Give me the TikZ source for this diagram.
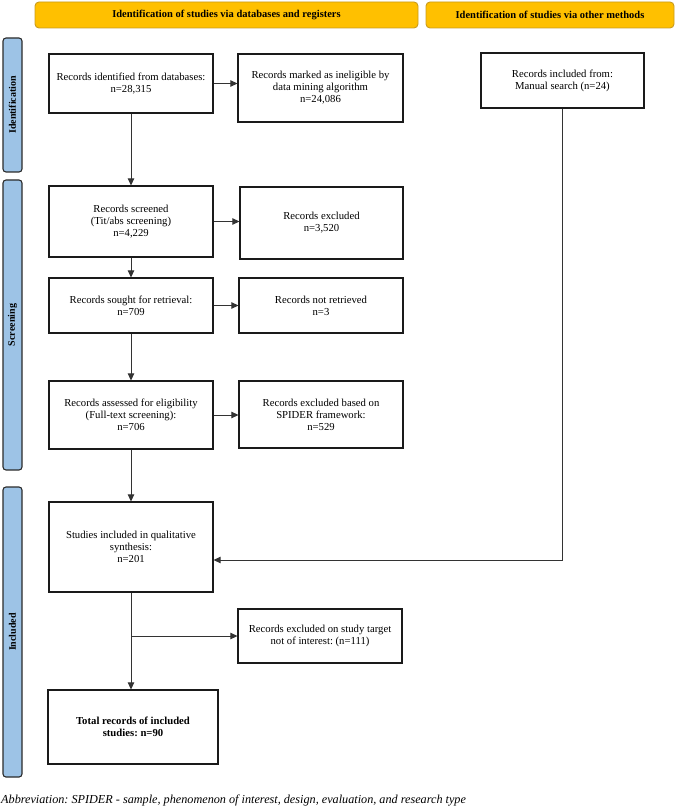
\documentclass[tikz,border=0pt]{standalone}
\usepackage{fontspec}
\setmainfont{Liberation Serif}
\usepackage{tikz}
\usetikzlibrary{arrows.meta}
\frenchspacing
\definecolor{gold}{HTML}{FFC000}
\definecolor{goldedge}{HTML}{C89B1E}
\definecolor{phase}{HTML}{9DC3E6}
\definecolor{phaseedge}{HTML}{2B2B2B}
\definecolor{ink}{HTML}{1A1A1A}
\definecolor{wire}{HTML}{333333}
\tikzset{
  box/.style={draw=ink, line width=1.2pt, fill=white, align=center, inner sep=2pt, font=\fontsize{10.7}{12}\selectfont},
  head/.style={draw=goldedge, fill=gold, line width=0.9pt, rounded corners=4pt, minimum height=26pt, font=\fontsize{10.5}{12}\selectfont\bfseries},
  phasebar/.style={draw=phaseedge, fill=phase, line width=1.1pt, rounded corners=3pt, rotate=90, minimum height=19pt, font=\fontsize{10}{12}\selectfont\bfseries},
  arr/.style={draw=wire, line width=0.75pt, -{Triangle[length=7pt,width=6.5pt]}},
  wireline/.style={draw=wire, line width=0.75pt}
}

\begin{document}
\begin{tikzpicture}[x=1pt, y=-1pt]
  \useasboundingbox (0,0) rectangle (676,810);

  \node[head, minimum width=383pt] (hdb) at (226.5,15) {Identification of studies via databases and registers};
  \node[head, minimum width=248pt] (hother) at (550,15) {Identification of studies via other methods};

  \node[phasebar, minimum width=134pt] (pid) at (12.5,105) {Identification};
  \node[phasebar, minimum width=290pt] (pscr) at (12.5,325) {Screening};
  \node[phasebar, minimum width=290pt] (pinc) at (12.5,632) {Included};

  \node[box, minimum width=164pt, minimum height=59pt] (ident) at (131,83.5) {Records identified from databases:\\ n=28,315};
  \node[box, minimum width=165pt, minimum height=68pt] (inelig) at (320.5,88) {Records marked as ineligible by\\ data mining algorithm\\ n=24,086};
  \node[box, minimum width=163pt, minimum height=55pt] (manual) at (562.5,80.5) {Records included from:\\ Manual search (n=24)};

  \node[box, minimum width=164pt, minimum height=71pt] (screen) at (131,221.5) {Records screened\\ (Tit/abs screening)\\ n=4,229};
  \node[box, minimum width=163pt, minimum height=72pt] (excl) at (321.5,223) {Records excluded\\ n=3,520};

  \node[box, minimum width=164pt, minimum height=55pt] (sought) at (131,305.5) {Records sought for retrieval:\\ n=709};
  \node[box, minimum width=164pt, minimum height=55pt] (notret) at (321,305.5) {Records not retrieved\\ n=3};

  \node[box, minimum width=164pt, minimum height=68pt] (elig) at (131,415) {Records assessed for eligibility\\ (Full-text screening):\\ n=706};
  \node[box, minimum width=164pt, minimum height=67pt] (spider) at (321,414.5) {Records excluded based on\\ SPIDER framework:\\ n=529};

  \node[box, minimum width=164pt, minimum height=90pt] (synth) at (131,547) {Studies included in qualitative\\ synthesis:\\ n=201};
  \node[box, minimum width=164pt, minimum height=54pt] (target) at (320,636) {Records excluded on study target\\ not of interest: (n=111)};
  \node[box, minimum width=170pt, minimum height=74pt, font=\fontsize{10.7}{12}\selectfont\bfseries] (total) at (133,727) {Total records of included\\ studies: n=90};

  \node[anchor=west, inner sep=0pt, font=\fontsize{12.2}{14}\selectfont\itshape] (note) at (1,801) {Abbreviation: SPIDER - sample, phenomenon of interest, design, evaluation, and research type};

  \coordinate (mjoin) at (567,560);
  \coordinate (split) at (synth.south |- target.west);

  \draw[arr] (ident) -- (screen);
  \draw[arr] (screen) -- (sought);
  \draw[arr] (sought) -- (elig);
  \draw[arr] (elig) -- (synth);
  \draw[arr] (synth.south) -- (synth.south |- total.north);

  \draw[arr] (ident.east) -- (ident.east -| inelig.west);
  \draw[arr] (screen.east) -- (screen.east -| excl.west);
  \draw[arr] (sought.east) -- (sought.east -| notret.west);
  \draw[arr] (elig.east) -- (elig.east -| spider.west);
  \draw[arr] (split) -- (target.west);

  \draw[wireline] (manual.south) -- (manual.south |- mjoin);
  \draw[arr] (manual.south |- mjoin) -- (synth.east |- mjoin);
\end{tikzpicture}
\end{document}
